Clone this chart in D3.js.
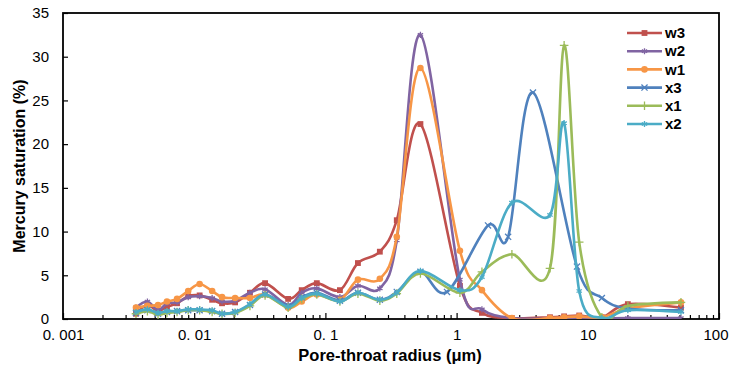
<!DOCTYPE html>
<html>
<head>
<meta charset="utf-8">
<script src="https://cdn.jsdelivr.net/npm/d3@7"></script>
<style>
  body { margin: 0; background: #fff; }
  text { font-family: "Liberation Sans", Arial, sans-serif; }
</style>
</head>
<body>
<div id="wrapper"></div>
<script>
// pore-throat radius (um) for the common pressure steps
const radius = [0.0036, 0.0044, 0.0053, 0.0062, 0.0074, 0.009, 0.011, 0.0137, 0.0163, 0.0205,
  0.0266, 0.0347, 0.052, 0.066, 0.086, 0.129, 0.177, 0.26, 0.35, 0.53,
  1.06, 1.56, 2.64, 5.15, 6.6, 8.6, 12.8, 20.2, 51.3]
// x3 has slightly different steps above 0.5 um
const radiusX3 = [0.0036, 0.0044, 0.0053, 0.0062, 0.0074, 0.009, 0.011, 0.0137, 0.0163, 0.0205,
  0.0266, 0.0347, 0.052, 0.066, 0.086, 0.129, 0.177, 0.26, 0.35, 0.53,
  0.845, 1.735, 2.47, 3.82, 8.27, 12.8, 20.2, 51.3]

const w3 = [0.6, 1.6, 0.9, 1.4, 1.8, 2.6, 2.7, 2.2, 1.8, 1.9, 3.0, 4.1, 2.3, 3.3, 4.1, 3.3, 6.4, 7.7, 11.3, 22.3,
  3.8, 0.7, 0.1, 0.2, 0.3, 0.4, 0.2, 1.7, 1.3]
const w2 = [1.3, 2.0, 1.0, 1.8, 1.9, 2.5, 2.6, 2.4, 2.0, 2.1, 3.0, 3.4, 1.6, 3.0, 3.5, 2.5, 3.8, 3.5, 9.0, 32.5,
  4.5, 1.1, 0.1, 0.05, 0.05, 0.05, 0.05, 0.1, 0.1]
const w1 = [1.3, 1.5, 1.6, 2.0, 2.3, 3.2, 4.0, 3.2, 2.5, 2.4, 2.4, 2.8, 1.3, 2.0, 2.8, 2.2, 4.5, 4.6, 9.4, 28.7,
  7.8, 3.3, 0.1, 0.1, 0.2, 0.3, 0.2, 1.2, 1.9]
const x3 = [0.7, 1.0, 0.6, 0.8, 0.9, 1.0, 1.0, 0.9, 0.6, 0.8, 1.6, 2.8, 1.5, 2.5, 3.0, 2.1, 3.0, 2.2, 3.1, 5.4,
  3.1, 10.7, 9.4, 25.9, 6.0, 2.4, 1.2, 1.0]
const x1 = [0.6, 0.9, 0.5, 0.7, 0.8, 1.0, 1.0, 0.8, 0.6, 0.7, 1.5, 2.7, 1.3, 2.3, 2.8, 2.0, 2.9, 2.1, 2.9, 5.2,
  3.0, 5.4, 7.4, 5.8, 31.3, 8.8, 0.2, 1.5, 1.9]
const x2 = [0.8, 1.1, 0.7, 0.9, 0.9, 1.1, 1.1, 1.0, 0.6, 0.8, 1.7, 2.8, 1.4, 2.4, 2.9, 2.0, 3.0, 2.2, 3.0, 5.5,
  3.3, 4.8, 13.3, 11.9, 22.4, 3.2, 0.1, 1.0, 0.8]

const xTicks = [0.001, 0.01, 0.1, 1, 10, 100]
const xTickLabels = ["0. 001", "0. 01", "0. 1", "1", "10", "100"]
const yTicks = [0, 5, 10, 15, 20, 25, 30, 35]

const series = [
  { name: "w3", xs: radius, ys: w3, color: "#C0504D", marker: "square" },
  { name: "w2", xs: radius, ys: w2, color: "#8064A2", marker: "star" },
  { name: "w1", xs: radius, ys: w1, color: "#F79646", marker: "circle" },
  { name: "x3", xs: radiusX3, ys: x3, color: "#4F81BD", marker: "times" },
  { name: "x1", xs: radius, ys: x1, color: "#9BBB59", marker: "plus" },
  { name: "x2", xs: radius, ys: x2, color: "#4BACC6", marker: "star" },
]

const dimensions = {
  width: 729,
  height: 367,
  margins: { top: 13, right: 10, bottom: 48, left: 63 },
}
dimensions.boundedWidth = dimensions.width - dimensions.margins.left - dimensions.margins.right
dimensions.boundedHeight = dimensions.height - dimensions.margins.top - dimensions.margins.bottom

const wrapper = d3.select("#wrapper")
  .append("svg")
    .attr("width", dimensions.width)
    .attr("height", dimensions.height)

const bounds = wrapper.append("g")
  .attr("transform", `translate(${dimensions.margins.left},${dimensions.margins.top})`)

const xScale = d3.scaleLog()
  .domain([0.001, 100])
  .range([0, dimensions.boundedWidth])

const yScale = d3.scaleLinear()
  .domain([0, 35])
  .range([dimensions.boundedHeight, 0])

bounds.append("clipPath").attr("id", "plotclip")
  .append("rect")
    .attr("width", dimensions.boundedWidth)
    .attr("height", dimensions.boundedHeight)

// axes, ticks pointing inward
const yAxis = bounds.append("g")
  .call(d3.axisLeft(yScale).tickValues(yTicks).tickSize(-5).tickPadding(14).tickFormat(d3.format("d")))
yAxis.select(".domain").remove()
yAxis.selectAll("line").attr("stroke", "#000").attr("stroke-width", 1.2)
yAxis.selectAll("text").attr("font-size", 15).attr("fill", "#000")

const minorTicks = []
for (let e = -3; e < 2; e++) {
  for (let m = 2; m <= 9; m++) minorTicks.push(m * Math.pow(10, e))
}
const xMinor = bounds.append("g")
  .attr("transform", `translate(0,${dimensions.boundedHeight})`)
  .call(d3.axisBottom(xScale).tickValues(minorTicks).tickSize(-4).tickFormat(""))
xMinor.select(".domain").remove()
xMinor.selectAll("line").attr("stroke", "#000").attr("stroke-width", 1.2)

const xAxis = bounds.append("g")
  .attr("transform", `translate(0,${dimensions.boundedHeight})`)
  .call(d3.axisBottom(xScale).tickValues(xTicks).tickSize(-6).tickPadding(10)
    .tickFormat((d, i) => xTickLabels[i]))
xAxis.select(".domain").remove()
xAxis.selectAll("line").attr("stroke", "#000").attr("stroke-width", 1.2)
xAxis.selectAll("text").attr("font-size", 15).attr("fill", "#000")
// keep the last label inside the page
xAxis.selectAll("text").filter(d => d === 100)
  .attr("text-anchor", "end")
  .attr("dx", 9)

// plot frame
bounds.append("rect")
  .attr("width", dimensions.boundedWidth)
  .attr("height", dimensions.boundedHeight)
  .attr("fill", "none")
  .attr("stroke", "#000")
  .attr("stroke-width", 1.8)

const symbolFor = {
  square: d3.symbolSquare,
  circle: d3.symbolCircle,
  star: d3.symbolAsterisk,
  times: d3.symbolTimes,
  plus: d3.symbolPlus,
}

function drawMarker(sel, s) {
  const filled = s.marker === "square" || s.marker === "circle"
  sel.attr("d", d3.symbol().type(symbolFor[s.marker]).size(filled ? 34 : 26)())
    .attr("fill", filled ? s.color : "none")
    .attr("stroke", s.color)
    .attr("stroke-width", filled ? 0 : 1.3)
}

const lineGenerator = d3.line()
  .x(d => xScale(d[0]))
  .y(d => yScale(d[1]))
  .curve(d3.curveCardinal.tension(0))

const plot = bounds.append("g").attr("clip-path", "url(#plotclip)")

series.forEach(s => {
  const pts = s.xs.map((x, i) => [x, s.ys[i]])
  plot.append("path")
    .attr("d", lineGenerator(pts))
    .attr("fill", "none")
    .attr("stroke", s.color)
    .attr("stroke-width", 2.6)
  plot.selectAll(null)
    .data(pts)
    .join("path")
      .attr("transform", d => `translate(${xScale(d[0])},${yScale(d[1])})`)
      .call(drawMarker, s)
})

// legend
const legend = bounds.append("g")
  .attr("transform", `translate(${627 - dimensions.margins.left},${33 - dimensions.margins.top})`)
series.forEach((s, i) => {
  const row = legend.append("g").attr("transform", `translate(0,${i * 18.2})`)
  row.append("line")
    .attr("x1", 0).attr("x2", 35)
    .attr("stroke", s.color)
    .attr("stroke-width", 2.6)
  row.append("path")
    .attr("transform", "translate(17.5,0)")
    .call(drawMarker, s)
  row.append("text")
    .attr("x", 38)
    .attr("dy", "0.35em")
    .attr("font-size", 15)
    .attr("font-weight", "bold")
    .text(s.name)
})

// axis titles
wrapper.append("text")
  .attr("transform", `translate(25,${dimensions.margins.top + dimensions.boundedHeight / 2}) rotate(-90)`)
  .attr("text-anchor", "middle")
  .attr("font-size", 16)
  .attr("font-weight", "bold")
  .text("Mercury saturation (%)")

wrapper.append("text")
  .attr("x", 390)
  .attr("y", 361)
  .attr("text-anchor", "middle")
  .attr("font-size", 16.5)
  .attr("font-weight", "bold")
  .text("Pore-throat radius (μm)")
</script>
</body>
</html>
